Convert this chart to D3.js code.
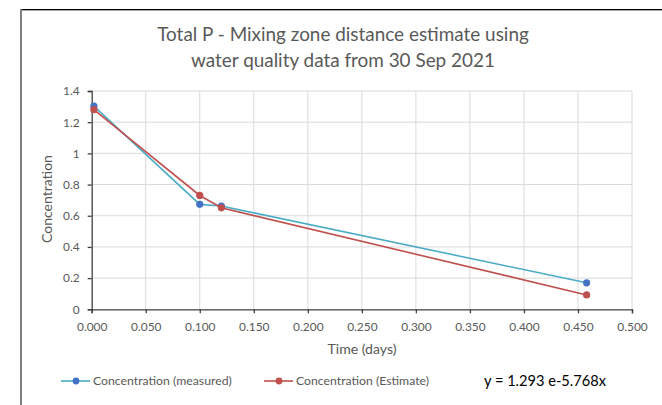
<!DOCTYPE html>
<html><head><meta charset="utf-8">
<script src="https://cdn.jsdelivr.net/npm/d3@7"></script>
<style>body{margin:0;background:#fff}svg{display:block}text{font-family:Lato,"Open Sans",sans-serif}</style>
</head><body><svg id="c" width="662" height="405"></svg>
<script>
const titleLines = ["Total P - Mixing zone distance estimate using", "water quality data from 30 Sep 2021"];
const timeDays = [0.002, 0.100, 0.120, 0.458];
const measured = [1.303, 0.673, 0.662, 0.170];
const estimate = [1.280, 0.730, 0.651, 0.092];
const xTicks = [0, 0.05, 0.1, 0.15, 0.2, 0.25, 0.3, 0.35, 0.4, 0.45, 0.5];
const yTicks = [0, 0.2, 0.4, 0.6, 0.8, 1, 1.2, 1.4];
const seriesNames = ["Concentration (measured)", "Concentration (Estimate)"];
const equation = "y = 1.293 e-5.768x";

const svg = d3.select("#c");
const x = d3.scaleLinear().domain([0, 0.5]).range([91.7, 632]);
const y = d3.scaleLinear().domain([0, 1.4]).range([309.3, 91]);

function fitSize(sel, refNode, target){
  const w = refNode.getComputedTextLength();
  const s = parseFloat(refNode.getAttribute("font-size"));
  const ns = s * target / w;
  sel.attr("font-size", ns);
  return ns;
}

// frame
svg.append("line").attr("x1",21).attr("x2",662).attr("y1",9.5).attr("y2",9.5).attr("stroke","#000").attr("stroke-width",1);
svg.append("line").attr("x1",21).attr("x2",662).attr("y1",10.5).attr("y2",10.5).attr("stroke","#a6a6a6").attr("stroke-width",1);
svg.append("line").attr("x1",21).attr("x2",21).attr("y1",9).attr("y2",405).attr("stroke","#7f7f7f").attr("stroke-width",2);

// title
const tt = svg.append("g").selectAll("text").data(titleLines).join("text")
  .attr("x",343).attr("y",(d,i)=>41+i*26).attr("text-anchor","middle")
  .attr("font-size",18).attr("fill","#595959").text(d=>d);
fitSize(tt, tt.nodes()[0], 372);

// grid
svg.append("g").selectAll("line").data(yTicks.slice(1)).join("line")
  .attr("x1",x(0)).attr("x2",x(0.5)).attr("y1",d=>y(d)).attr("y2",d=>y(d))
  .attr("stroke","#d9d9d9").attr("stroke-width",1);
svg.append("g").selectAll("line").data(xTicks.slice(1)).join("line")
  .attr("x1",d=>x(d)).attr("x2",d=>x(d)).attr("y1",y(0)).attr("y2",y(1.4))
  .attr("stroke","#d9d9d9").attr("stroke-width",1);

// axes
const xAxis = svg.append("g").attr("transform",`translate(0,${y(0)})`)
  .call(d3.axisBottom(x).tickValues(xTicks).tickFormat(d3.format(".3f")).tickSize(4).tickPadding(9));
const yAxis = svg.append("g").attr("transform",`translate(${x(0)},0)`)
  .call(d3.axisLeft(y).tickValues(yTicks).tickFormat(d=>d3.format("")(d)).tickSize(4).tickPadding(8));
[xAxis,yAxis].forEach(a=>{
  a.attr("font-family",null);
  a.select(".domain").attr("stroke","#404040").attr("stroke-width",1.3);
  a.selectAll(".tick line").attr("stroke","#404040").attr("stroke-width",1.3);
  a.selectAll("text").attr("font-size",11).attr("fill","#595959");
});
const tickSize = fitSize(xAxis.selectAll("text"), xAxis.select("text").node(), 30.5);
yAxis.selectAll("text").attr("font-size", tickSize);

const xt = svg.append("text").attr("x",362).attr("y",354).attr("text-anchor","middle")
  .attr("font-size",12).attr("fill","#595959").text("Time (days)");
fitSize(xt, xt.node(), 69);
const yt = svg.append("text").attr("transform","translate(52,199) rotate(-90)").attr("text-anchor","middle")
  .attr("font-size",12).attr("fill","#595959").text("Concentration");
fitSize(yt, yt.node(), 88);

// series
const series = [
  {vals: measured, line:"#4bacc6", mark:"#4472c4"},
  {vals: estimate, line:"#c0504d", mark:"#c0504d"}
];
const lineGen = d3.line().x(d=>x(d[0])).y(d=>y(d[1]));
series.forEach(s=>{
  const pts = timeDays.map((t,i)=>[t,s.vals[i]]);
  svg.append("path").datum(pts).attr("d",lineGen).attr("fill","none")
    .attr("stroke",s.line).attr("stroke-width",1.6);
  svg.append("g").selectAll("circle").data(pts).join("circle")
    .attr("cx",d=>x(d[0])).attr("cy",d=>y(d[1])).attr("r",3.6).attr("fill",s.mark);
});

// legend
const legX = [61, 264];
const legTexts = [];
series.forEach((s,i)=>{
  const g = svg.append("g").attr("transform",`translate(${legX[i]},381)`);
  g.append("line").attr("x1",0).attr("x2",29).attr("stroke",s.line).attr("stroke-width",1.6);
  g.append("circle").attr("cx",15).attr("r",3.4).attr("fill",s.mark);
  legTexts.push(g.append("text").attr("x",32).attr("y",4).attr("font-size",11).attr("fill","#595959").text(seriesNames[i]).node());
});
fitSize(d3.selectAll(legTexts), legTexts[0], 139);

const eq = svg.append("text").attr("x",484).attr("y",386).attr("font-size",13.5).attr("fill","#000").text(equation);
fitSize(eq, eq.node(), 122);
</script></body></html>
